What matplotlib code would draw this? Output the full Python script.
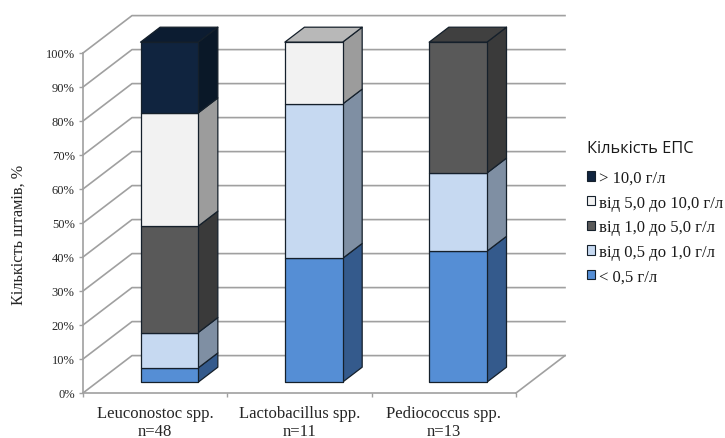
import matplotlib
matplotlib.use("Agg")
import matplotlib.pyplot as plt
from matplotlib.patches import Patch
from matplotlib.ticker import FixedLocator

# ── Data ──────────────────────────────────────────────────────────────────────
categories = ["Leuconostoc spp.\nn=48", "Lactobacillus spp.\nn=11", "Pediococcus spp.\nn=13"]
levels = ["< 0,5 г/л", "від 0,5 до 1,0 г/л", "від 1,0 до 5,0 г/л",
          "від 5,0 до 10,0 г/л", "> 10,0 г/л"]
below_05 = [4.2, 36.4, 38.5]
from_05_to_1 = [10.4, 45.4, 23.0]
from_1_to_5 = [31.3, 0.0, 38.5]
from_5_to_10 = [33.3, 18.2, 0.0]
above_10 = [20.8, 0.0, 0.0]
series = [below_05, from_05_to_1, from_1_to_5, from_5_to_10, above_10]
y_ticks = list(range(0, 101, 10))

# front, side and top colours per level
front_colors = ["#558ed5", "#c6d9f1", "#595959", "#f2f2f2", "#10243f"]
side_colors = ["#345a8c", "#7f8fa3", "#3a3a3a", "#9c9c9c", "#0a1828"]
top_colors = ["#3f6ca6", "#93a3b8", "#404040", "#b8b8b8", "#0c1c31"]

# ── Projection of the fake depth ──────────────────────────────────────────────
DEPTH_X = 0.3395   # category units across the whole floor
DEPTH_Y = 11.0     # percent units across the whole floor
BAR_WIDTH = 0.40
BAR_D0, BAR_D1 = 0.29, 0.69
GRID = "#a0a0a0"
EDGE = "#15202b"


def shift(x, y, d):
    return x + DEPTH_X * d, y + DEPTH_Y * d


def poly(ax, pts, color, z):
    ax.fill([p[0] for p in pts], [p[1] for p in pts], facecolor=color, edgecolor=EDGE,
            lw=0.9, zorder=z, clip_on=False, joinstyle="round")


plt.rcParams["font.family"] = ["Liberation Serif", "DejaVu Serif"]
fig = plt.figure(figsize=(7.25, 4.39), dpi=100)
ax = fig.add_axes([83 / 725, 45 / 439, 433 / 725, 340 / 439])
ax.set_xlim(0, 3)
ax.set_ylim(0, 100)

# Back wall and side wall grid lines
for v in y_ticks:
    x1, y1 = shift(0, v, 1)
    x2, y2 = shift(3, v, 1)
    ax.plot([0, x1, x2], [v, y1, y2], color=GRID, lw=1.2, zorder=1, clip_on=False)
fx, fy = shift(3, 0, 1)
ax.plot([3, fx], [0, fy], color=GRID, lw=1.2, zorder=1, clip_on=False)

# Stacked boxes
for i in range(len(categories)):
    left = i + 0.5 - BAR_WIDTH / 2
    right = i + 0.5 + BAR_WIDTH / 2
    bottom = 0.0
    heights = [s[i] for s in series]
    last = max(k for k, h in enumerate(heights) if h > 0)
    for k, h in enumerate(heights):
        if h <= 0:
            continue
        top = bottom + h
        a = shift(left, bottom, BAR_D0)
        b = shift(right, bottom, BAR_D0)
        c = shift(right, top, BAR_D0)
        d = shift(left, top, BAR_D0)
        b2 = shift(right, bottom, BAR_D1)
        c2 = shift(right, top, BAR_D1)
        d2 = shift(left, top, BAR_D1)
        poly(ax, [b, b2, c2, c], side_colors[k], 3 + k)
        if k == last:
            poly(ax, [d, c, c2, d2], top_colors[k], 3 + k)
        poly(ax, [a, b, c, d], front_colors[k], 3 + k)
        bottom = top

# Axes, ticks and labels
for name in ["top", "right"]:
    ax.spines[name].set_visible(False)
for name in ["left", "bottom"]:
    ax.spines[name].set_color(GRID)
    ax.spines[name].set_linewidth(1.2)
ax.set_yticks(y_ticks)
ax.set_yticklabels([f"{v}%" for v in y_ticks], fontsize=9, color="#262626")
ax.tick_params(axis="y", length=3, width=1.0, color=GRID, pad=3)
ax.set_xticks([i + 0.5 for i in range(len(categories))])
ax.set_xticklabels(categories, fontsize=12, color="#262626", linespacing=1.12)
ax.xaxis.set_minor_locator(FixedLocator([0, 1, 2, 3]))
ax.tick_params(axis="x", which="major", length=0, pad=9)
ax.tick_params(axis="x", which="minor", length=3, width=1.0, color=GRID)
ax.set_ylabel("Кількість штамів, %", fontsize=11.7, color="#262626")
ax.yaxis.set_label_coords(-56 / 433, 0.468)
ax.patch.set_alpha(0)

# Legend, highest level first
handles = [Patch(facecolor=front_colors[k], edgecolor=EDGE, lw=0.8, label=levels[k])
           for k in reversed(range(len(levels)))]
leg = fig.legend(handles=handles, title="Кількість ЕПС", loc="upper left",
                 bbox_to_anchor=(587 / 725, 1 - 141 / 439), frameon=False,
                 fontsize=12, handlelength=0.48, handleheight=0.48,
                 handletextpad=0.24, labelspacing=0.52, borderpad=0, borderaxespad=0,
                 labelcolor="#1a1a1a", alignment="left")
leg.get_title().set_family(["Open Sans", "DejaVu Sans"])
leg.get_title().set_fontsize(11.8)
leg.get_title().set_color("#1a1a1a")
leg._legend_box.sep = 10.1   # extra gap under the legend title

fig.savefig("out.png", dpi=100)
